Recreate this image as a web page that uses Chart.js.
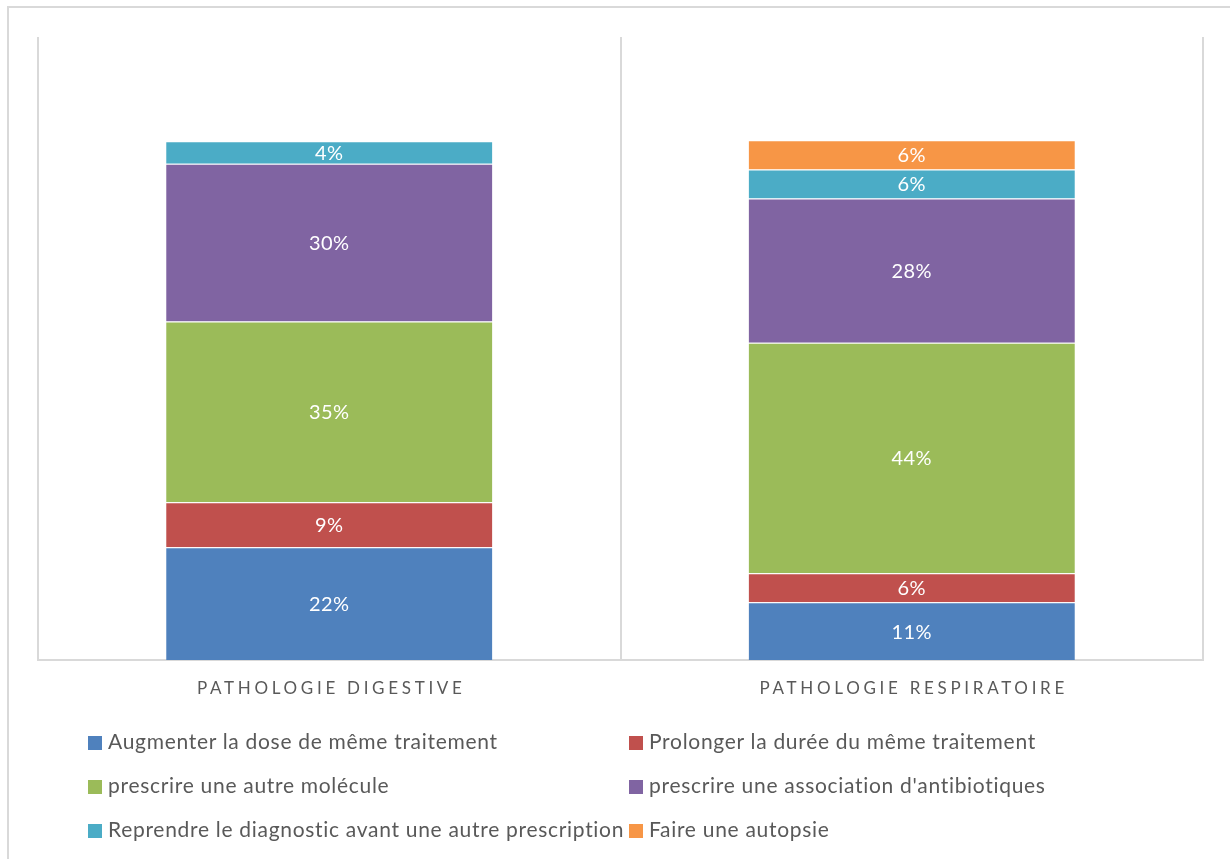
<!DOCTYPE html>
<html lang="fr">
<head>
    <meta charset="UTF-8">
    <title>Pathologie digestive / respiratoire</title>
    <script src="https://cdn.jsdelivr.net/npm/chart.js"></script>
    <style>
        html, body {
            margin: 0;
            padding: 0;
            width: 1230px;
            height: 859px;
            overflow: hidden;
            background: #fff;
            font-family: 'Lato', sans-serif;
        }
        #frame {
            position: absolute;
            left: 7px;
            top: 6px;
            width: 1400px;
            height: 1000px;
            border: 2px solid #d9d9d9;
        }
        #wrap {
            position: absolute;
            left: 0;
            top: 0;
            width: 1230px;
            height: 859px;
        }
        .leg {
            position: absolute;
            font-size: 21px;
            letter-spacing: 0.7px;
            color: #595959;
            line-height: 24px;
            white-space: nowrap;
        }
        .leg span {
            display: inline-block;
            width: 14px;
            height: 14px;
            margin-right: 6px;
            vertical-align: -1px;
        }
    </style>
</head>
<body>
    <div id="frame"></div>
    <div id="wrap">
        <canvas id="chart" width="1230" height="859"></canvas>
    </div>
    <div id="legend"></div>

    <script>
        // categories
        const categories = ['PATHOLOGIE DIGESTIVE', 'PATHOLOGIE RESPIRATOIRE'];

        // series (percent of answers)
        const seriesNames = [
            'Augmenter la dose de même traitement',
            'Prolonger la durée du même traitement',
            'prescrire une autre molécule',
            "prescrire une association d'antibiotiques",
            'Reprendre le diagnostic avant une autre prescription',
            'Faire une autopsie'
        ];
        const augmenterDose = [21.7, 11.1];
        const prolongerDuree = [8.7, 5.6];
        const autreMolecule = [34.8, 44.4];
        const association = [30.4, 27.8];
        const reprendreDiagnostic = [4.3, 5.6];
        const autopsie = [0, 5.6];

        const colors = ['#4f81bd', '#c0504d', '#9bbb59', '#8064a2', '#4bacc6', '#f79646'];
        const allSeries = [augmenterDose, prolongerDuree, autreMolecule, association, reprendreDiagnostic, autopsie];

        // labels inside the segments
        const segmentLabels = {
            id: 'segmentLabels',
            afterDatasetsDraw(chart) {
                const ctx = chart.ctx;
                ctx.save();
                ctx.fillStyle = '#ffffff';
                ctx.font = '20px Lato';
                ctx.letterSpacing = '0.5px';
                ctx.textAlign = 'center';
                ctx.textBaseline = 'middle';
                chart.data.datasets.forEach((ds, i) => {
                    chart.getDatasetMeta(i).data.forEach((bar, j) => {
                        const v = ds.data[j];
                        if (!v) return;
                        ctx.fillText(Math.round(v) + '%', bar.x, (bar.y + bar.base) / 2 + 1);
                    });
                });
                ctx.restore();
            }
        };

        // spaced category names under the axis
        const categoryLabels = {
            id: 'categoryLabels',
            afterDraw(chart) {
                const ctx = chart.ctx;
                const xs = chart.scales.x;
                ctx.save();
                ctx.fillStyle = '#595959';
                ctx.font = '17px Lato';
                ctx.letterSpacing = '3.7px';
                ctx.textAlign = 'center';
                ctx.textBaseline = 'middle';
                categories.forEach((c, i) => {
                    ctx.fillText(c, xs.getPixelForValue(i) + 2, chart.chartArea.bottom + 29);
                });
                ctx.restore();
            }
        };

        new Chart(document.getElementById('chart'), {
            type: 'bar',
            data: {
                labels: categories,
                datasets: allSeries.map((d, i) => ({
                    label: seriesNames[i],
                    data: d,
                    backgroundColor: colors[i],
                    borderColor: 'rgba(255,255,255,0.7)',
                    borderWidth: { top: 1 },
                    borderSkipped: false,
                    categoryPercentage: 1,
                    barPercentage: 0.56
                }))
            },
            options: {
                responsive: false,
                animation: false,
                layout: { padding: { left: 38, right: 27, top: 37, bottom: 199 } },
                scales: {
                    x: {
                        stacked: true,
                        grid: { offset: true, color: '#d9d9d9', lineWidth: 2, drawTicks: false },
                        border: { color: '#d9d9d9', width: 2 },
                        ticks: { display: false }
                    },
                    y: {
                        stacked: true,
                        display: false,
                        min: 0,
                        max: 120
                    }
                },
                plugins: {
                    legend: { display: false },
                    tooltip: { enabled: false }
                }
            },
            plugins: [segmentLabels, categoryLabels]
        });

        // legend, two columns
        const legendPos = [[88, 729], [629, 729], [88, 773], [629, 773], [88, 817], [629, 817]];
        const legend = document.getElementById('legend');
        seriesNames.forEach((name, i) => {
            const d = document.createElement('div');
            d.className = 'leg';
            d.style.left = legendPos[i][0] + 'px';
            d.style.top = legendPos[i][1] + 'px';
            d.innerHTML = '<span style="background:' + colors[i] + '"></span>' + name;
            legend.appendChild(d);
        });
    </script>
</body>
</html>
